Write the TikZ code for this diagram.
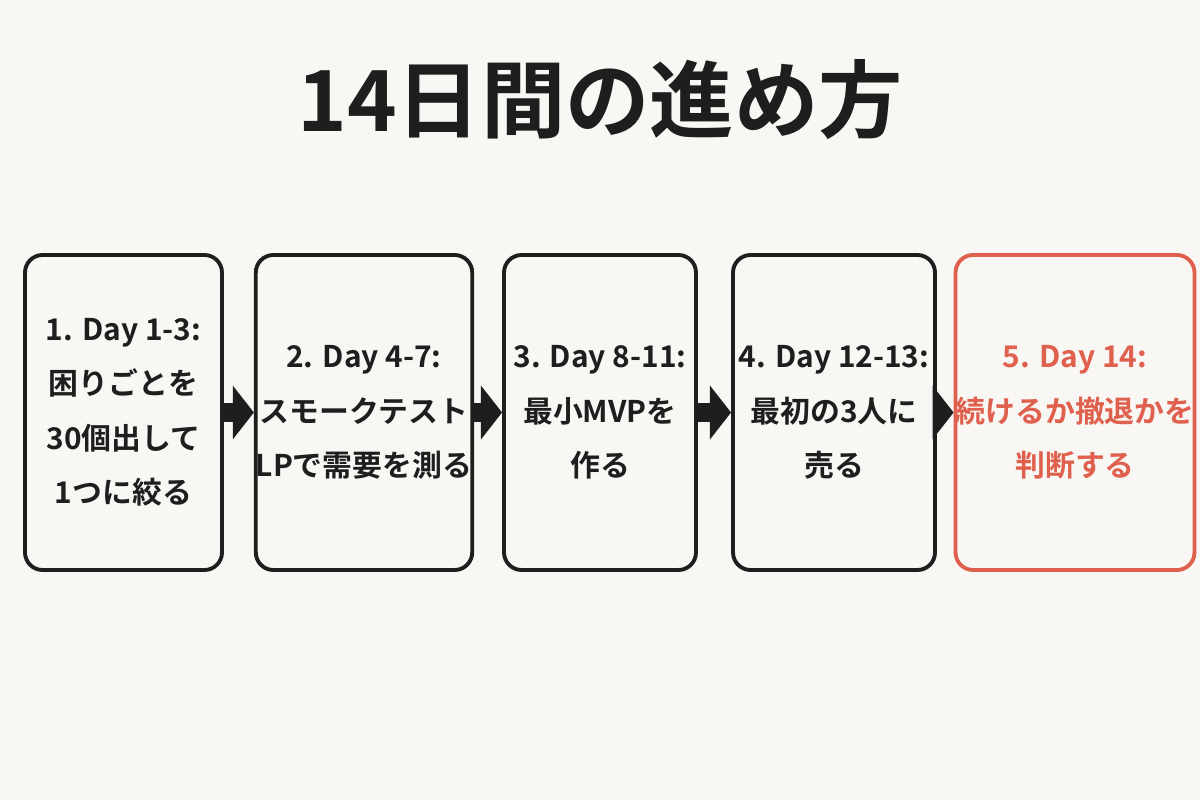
\documentclass[tikz,border=0pt]{standalone}
\usepackage{fontspec}
\setmainfont{Noto Sans CJK JP}[BoldFont={Noto Sans CJK JP Bold}]
\usetikzlibrary{arrows.meta}
\definecolor{bg}{HTML}{F8F7F4}
\definecolor{red5}{HTML}{E0604E}
\definecolor{ink}{HTML}{1E1E1E}
\begin{document}
\begin{tikzpicture}[x=0.02cm,y=-0.02cm,
  box/.style={draw=ink,line width=2.2pt,rounded corners=10pt,minimum height=315*0.02cm,align=center,inner sep=0pt,font=\bfseries\fontsize{17}{31}\selectfont,text=ink},
  arr/.style={ink,line width=11pt,-{Triangle[length=12pt,width=30pt]}}]
\fill[bg] (0,0) rectangle (1200,800);
\useasboundingbox (0,0) rectangle (1200,800);
\node[font=\bfseries\fontsize{48}{56}\selectfont,text=ink] (t) at (600,100) {14日間の進め方};
\node[box,minimum width=197*0.02cm] (b1) at (123.5,412.5) {1. Day 1-3:\\困りごとを\\30個出して\\1つに絞る};
\node[box,minimum width=198*0.02cm] (b2) at (364,412.5) {2. Day 4-7:\\スモークテスト\\LPで需要を測る};
\node[box,minimum width=192*0.02cm] (b3) at (600,412.5) {3. Day 8-11:\\最小MVPを\\作る};
\node[box,minimum width=202*0.02cm] (b4) at (834,412.5) {4. Day 12-13:\\最初の3人に\\売る};
\node[box,draw=red5,text=red5,minimum width=200*0.02cm] (b5) at (1075,412.5) {5. Day 14:\\続けるか撤退かを\\判断する};
\draw[arr] (b1.east) -- (b2.west);
\draw[arr] (b2.east) -- (b3.west);
\draw[arr] (b3.east) -- (b4.west);
\draw[arr] (b4.east) -- (b5.west);
\end{tikzpicture}
\end{document}
